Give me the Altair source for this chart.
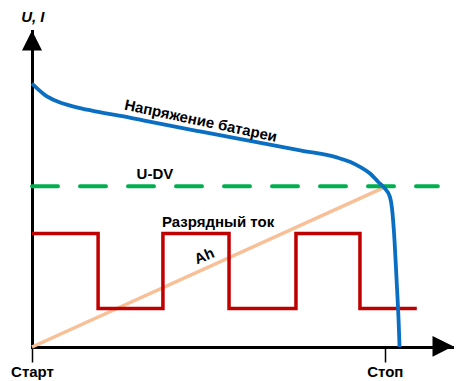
import altair as alt
import pandas as pd

# ---- data (arbitrary units: x = time 0..100, y = level 0..100) ----
blue_x = [0, 1.4, 3.1, 6.2, 10.2, 14.2, 22.1, 27.6, 39.9, 51.8, 63.7, 72.4, 75.5, 77.9,
          80.3, 82.2, 83.8, 85.0, 85.5, 86.1, 86.6, 87.1, 87.3]
blue_y = [83.4, 81.6, 79.7, 77.6, 76.0, 74.8, 72.9, 71.4, 68.2, 65.2, 62.2, 60.0, 58.6, 57.0,
          54.9, 52.3, 50.2, 47.6, 44.0, 33.9, 21.2, 7.6, 0]

red_x = [0, 15.7, 31.1, 46.8, 62.7, 77.9, 91.4]
red_y = [35.9, 12.2, 35.9, 12.2, 35.9, 12.2, 12.2]

green_x = [0, 96.4]
green_y = [50.9, 50.9]

orange_x = [0, 83.8]
orange_y = [0, 50.6]

tick_values = [0, 83.8]
tick_labels = ["Старт", "Стоп"]

FONT = "Liberation Sans"

xscale = alt.Scale(domain=[0, 100], nice=False, zero=False)
yscale = alt.Scale(domain=[0, 100], nice=False, zero=False)

label_expr = "datum.value == 0 ? '%s' : '%s'" % (tick_labels[0], tick_labels[1])

x_enc = alt.X("x:Q", scale=xscale, axis=alt.Axis(
    values=tick_values, labelExpr=label_expr, title=None, grid=False,
    domainColor="black", domainWidth=3, domainCap="square",
    tickColor="black", tickWidth=1.5, tickSize=15,
    labelFont=FONT, labelFontSize=15, labelFontWeight="bold", labelColor="black",
    labelPadding=2, labelAngle=0, labelFlush=False, labelOverlap=False))
y_enc = alt.Y("y:Q", scale=yscale, axis=alt.Axis(
    title=None, grid=False, ticks=False, labels=False,
    domainColor="black", domainWidth=3, domainCap="square"))


def line_layer(xs, ys, color, width, **kw):
    df = pd.DataFrame({"x": xs, "y": ys, "o": list(range(len(xs)))})
    return alt.Chart(df).mark_line(color=color, strokeWidth=width, **kw).encode(
        x=x_enc, y=y_enc, order="o:Q")


orange = line_layer(orange_x, orange_y, "#F9BF96", 3.5)
green = line_layer(green_x, green_y, "#00B050", 4, strokeDash=[26, 22], strokeCap="round")
red = line_layer(red_x, red_y, "#C00000", 3.5, interpolate="step-after", strokeJoin="miter")
blue = line_layer(blue_x, blue_y, "#0A6FC2", 3.8, interpolate="monotone")

# axis arrow heads
xarrow = alt.Chart(pd.DataFrame({"x": [97.6], "y": [0.2]})).mark_point(
    shape="M1,0L-1,-1L-1,1Z", filled=True, size=430, color="black", opacity=1
).encode(x=x_enc, y=y_enc)
yarrow = alt.Chart(pd.DataFrame({"x": [0], "y": [97.0]})).mark_point(
    shape="M0,-1L1,1L-1,1Z", filled=True, size=400, color="black", opacity=1
).encode(x=x_enc, y=y_enc)


def text_layer(txt, x, y, angle=0, style="normal", size=15):
    df = pd.DataFrame({"x": [x], "y": [y], "t": [txt]})
    return alt.Chart(df).mark_text(
        font=FONT, fontSize=size, fontWeight="bold", fontStyle=style,
        color="black", align="center", baseline="middle", angle=angle
    ).encode(x=x_enc, y=y_enc, text="t:N")


t1 = text_layer("Напряжение батареи", 40.1, 71.6, angle=12)
t2 = text_layer("U-DV", 29.2, 54.9)
t3 = text_layer("Разрядный ток", 44.2, 39.6)
t4 = text_layer("Ah", 40.9, 28.8, angle=337)
t5 = text_layer("U, I", 0.2, 104.3, style="italic")

chart = alt.layer(orange, green, red, blue, xarrow, yarrow, t1, t2, t3, t4, t5).properties(
    width=421, height=316,
    autosize=alt.AutoSizeParams(type="none"),
    padding={"left": 24, "top": 23, "right": 1, "bottom": 34},
    background="white",
).configure_view(stroke=None)

chart.save("out.html", embed_options={"renderer": "svg", "actions": False})
